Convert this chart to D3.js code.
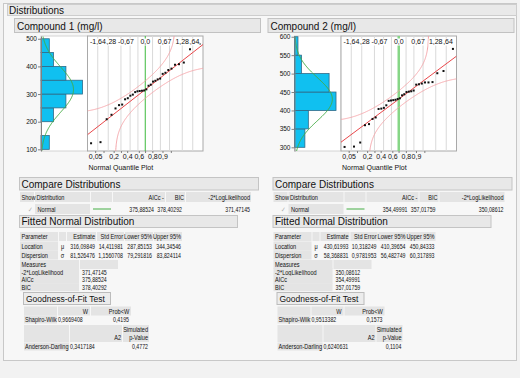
<!DOCTYPE html>
<html>
<head>
<meta charset="utf-8">
<script src="https://cdn.jsdelivr.net/npm/d3@7"></script>
<style>
  body { margin: 0; background: #f2f2f2; }
  text { font-family: "Liberation Sans", Arial, sans-serif; }
</style>
</head>
<body>
<svg id="report"></svg>
<script>
// ---- data ----
let titles = ["Compound 1 (mg/l)", "Compound 2 (mg/l)"];

let compound1 = [122, 126, 209, 225, 248, 260, 262, 281, 285, 294, 298, 307, 310, 311, 312, 313,
                 317, 330, 334, 345, 348, 353, 356, 373, 377, 387, 392, 406, 408, 414, 462, 481];
let compound2 = [301, 302, 313, 360, 363, 377, 381, 404, 405, 407, 414, 426, 427, 428, 429, 431,
                 433, 441, 444, 450, 451, 452, 454, 470, 471, 473, 476, 476, 477, 501, 507, 567];

let yTicks1 = [100, 200, 300, 400, 500];
let yTicks2 = [300, 350, 400, 450, 500, 550, 600];
let binEdges1 = [100, 150, 200, 250, 300, 350, 400, 450, 500];
let binEdges2 = [300, 350, 400, 450, 500, 550, 600];

let fitMean = [316.09849, 430.61993];
let fitSigma = [81.526476, 58.368831];
let bandWidth = 0.15;

let zTicks = [-1.64, -1.28, -0.67, 0, 0.67, 1.28, 1.64];
let zLabels = ["-1,64", "-1,28", "-0,67", "0,0", "0,67", "1,28", "1,64"];
let probGrid = [0.05, 0.1, 0.2, 0.3, 0.4, 0.6, 0.7, 0.8, 0.9, 0.95];
let probTicks = [0.05, 0.2, 0.4, 0.6, 0.8, 0.9];
let probLabels = ["0,05", "0,2", "0,4", "0,6", "0,8", "0,9"];

let compareVals = [["375,88524", "378,40292", "371,47145"], ["354,49991", "357,01759", "350,08612"]];
let paramHead = ["Parameter", "Estimate", "Std Error", "Lower 95%", "Upper 95%"];
let paramRows = [
  [["Location", "\u03bc", "316,09849", "14,411981", "287,85153", "344,34546"],
   ["Dispersion", "\u03c3", "81,526476", "1,1560708", "79,291816", "83,824114"]],
  [["Location", "\u03bc", "430,61993", "10,318249", "410,39654", "450,84333"],
   ["Dispersion", "\u03c3", "58,368831", "0,9781953", "56,482749", "60,317893"]]
];
let measureNames = ["-2*LogLikelihood", "AICc", "BIC"];
let measures = [["371,47145", "375,88524", "378,40292"], ["350,08612", "354,49991", "357,01759"]];
let shapiro = [["0,9669408", "0,4195"], ["0,9513382", "0,1573"]];
let anderson = [["0,3417184", "0,4772"], ["0,6240631", "0,1104"]];

// ---- helpers ----
function qnorm(p) {
  let a = [-39.69683028665376, 220.9460984245205, -275.9285104469687, 138.3577518672690, -30.66479806614716, 2.506628277459239];
  let b = [-54.47609879822406, 161.5858368580409, -155.6989798598866, 66.80131188771972, -13.28068155288572];
  let c = [-0.007784894002430293, -0.3223964580411365, -2.400758277161838, -2.549732539343734, 4.374664141464968, 2.938163982698783];
  let d = [0.007784695709041462, 0.3224671290700398, 2.445134137142996, 3.754408661907416];
  if (p < 0.02425) {
    let q = Math.sqrt(-2 * Math.log(p));
    return (((((c[0]*q+c[1])*q+c[2])*q+c[3])*q+c[4])*q+c[5]) / ((((d[0]*q+d[1])*q+d[2])*q+d[3])*q+1);
  }
  if (p > 1 - 0.02425) return -qnorm(1 - p);
  let q = p - 0.5, r = q * q;
  return (((((a[0]*r+a[1])*r+a[2])*r+a[3])*r+a[4])*r+a[5])*q / (((((b[0]*r+b[1])*r+b[2])*r+b[3])*r+b[4])*r+1);
}
function pnorm(z) {
  let t = 1 / (1 + 0.2316419 * Math.abs(z));
  let y = 0.3989423 * Math.exp(-z * z / 2) * t * (0.3193815 + t * (-0.3565638 + t * (1.781478 + t * (-1.821256 + t * 1.330274))));
  return z > 0 ? 1 - y : y;
}
function txt(g, x, y, s, size, anchor, color, sx) {
  let t = g.append("text").attr("font-size", size)
    .attr("text-anchor", anchor || "start").attr("fill", color || "#111").text(s);
  if (sx) t.attr("transform", `translate(${x},${y}) scale(${sx},1)`);
  else t.attr("x", x).attr("y", y);
  return t;
}
// small report text: JMP's table font is narrow, numbers even more so
function tt(g, x, y, s, anchor, color) {
  return txt(g, x, y, s, 7, anchor, color, /^[\d,]+$/.test(s) ? 0.75 : 0.8);
}
function box(g, x, y, w, h, fill, stroke) {
  return g.append("rect").attr("x", x).attr("y", y).attr("width", w).attr("height", h)
    .attr("fill", fill).attr("stroke", stroke || "none");
}

let svg = d3.select("#report").attr("width", 520).attr("height", 378);
box(svg, 0, 0, 520, 378, "#f2f2f2");
box(svg, 3.5, 3.5, 513, 357, "#f7f7f7", "#c8c8c8");
box(svg, 7.5, 4.5, 509, 11, "#e9e9e9", "#cdcdcd");
txt(svg, 9, 13.5, "Distributions", 10);

const cellFill = "#e4e4e4";

function drawPanel(k, values, yDomain, yTicks, edges) {
  let g = svg.append("g").attr("transform", `translate(${k * 253.5},0)`);
  let mu = fitMean[k], sd = fitSigma[k], n = values.length;

  box(g, 14.5, 18.5, 246, 14, "#e8e8e8", "#c2c2c2");
  txt(g, 17, 29.5, titles[k], 10);

  // histogram
  let y = d3.scaleLinear().domain(yDomain).range([151, 36]);
  let bins = d3.bin().domain([edges[0], edges[edges.length - 1]]).thresholds(edges)(values);
  let hx = d3.scaleLinear().domain([0, d3.max(bins, b => b.length) * 1.12]).range([41, 87.5]);
  box(g, 41, 36, 46.5, 115, "#fff", "#d4d4d4");
  g.append("g").selectAll("rect")
    .data(bins.filter(b => b.length))
    .join("rect")
      .attr("x", hx(0))
      .attr("y", b => y(b.x1))
      .attr("width", b => hx(b.length) - hx(0))
      .attr("height", b => y(b.x0) - y(b.x1))
      .attr("fill", "#10c0f0")
      .attr("stroke", "#2e6a88")
      .attr("stroke-width", 0.8);
  let binW = edges[1] - edges[0];
  let dens = d3.range(yDomain[0], yDomain[1], 2)
    .map(v => [v, n * binW * Math.exp(-0.5 * ((v - mu) / sd) ** 2) / (sd * Math.sqrt(2 * Math.PI))]);
  g.append("path").datum(dens)
    .attr("d", d3.line().x(d => hx(d[1])).y(d => y(d[0])))
    .attr("fill", "none").attr("stroke", "#45ad45").attr("stroke-width", 1);
  g.append("g").attr("transform", "translate(41,0)")
    .call(d3.axisLeft(y).tickValues(yTicks).tickSize(3).tickSizeOuter(0).tickFormat(d3.format("d")))
    .call(a => a.select(".domain").attr("stroke", "#808080"))
    .call(a => a.selectAll(".tick line").attr("stroke", "#808080"))
    .call(a => a.selectAll(".tick text").attr("font-size", 6.5).attr("fill", "#111").attr("x", -4));

  // normal quantile plot
  let qx = d3.scaleLinear().domain([-2, 2]).range([87.5, 203]);
  // JMP lays the probability labels out on a narrower copy of the axis
  let px = d3.scaleLinear().domain([-2, 2]).range([87.5, 179.5]);
  box(g, 87.5, 36, 115.5, 115, "#fff", "#a9a9a9");
  g.append("clipPath").attr("id", "clip" + k)
    .append("rect").attr("x", 87.5).attr("y", 36).attr("width", 115.5).attr("height", 115);
  g.append("g").selectAll("line")
    .data(probGrid)
    .join("line")
      .attr("x1", p => qx(qnorm(p))).attr("x2", p => qx(qnorm(p)))
      .attr("y1", 36).attr("y2", 151)
      .attr("stroke", "#d9d9d9");
  g.append("line").attr("x1", qx(0)).attr("x2", qx(0)).attr("y1", 36).attr("y2", 151)
    .attr("stroke", k == 0 ? "#3dbb3d" : "#86d686").attr("stroke-width", k == 0 ? 1 : 2.5);

  let curves = g.append("g").attr("clip-path", `url(#clip${k})`);
  let line = d3.line().x(d => qx(d[0])).y(d => y(d[1]));
  let zs = d3.range(-2, 2.0001, 0.005);
  let upper = zs.filter(z => pnorm(z) + bandWidth < 0.99999).map(z => [z, mu + sd * qnorm(pnorm(z) + bandWidth)]);
  let lower = zs.filter(z => pnorm(z) - bandWidth > 0.00001).map(z => [z, mu + sd * qnorm(pnorm(z) - bandWidth)]);
  [upper, lower].forEach(c => curves.append("path").datum(c).attr("d", line)
    .attr("fill", "none").attr("stroke", "#f3a3a8").attr("stroke-width", 1));
  curves.append("path").datum([[-2, mu - 2 * sd], [2, mu + 2 * sd]]).attr("d", line)
    .attr("fill", "none").attr("stroke", "#e8474a").attr("stroke-width", 1);

  let sorted = values.slice().sort(d3.ascending);
  g.append("g").selectAll("rect")
    .data(sorted)
    .join("rect")
      .attr("x", (v, i) => qx(qnorm((i + 1) / (n + 1))) - 1)
      .attr("y", v => y(v) - 1)
      .attr("width", 2).attr("height", 2)
      .attr("fill", "#111");

  // quantile labels on top, drawn from the right so the outer ones overlap as in JMP
  let zl = g.append("g");
  zTicks.slice().reverse().forEach((z, j) => {
    let i = zTicks.length - 1 - j;
    let lg = zl.append("g");
    let bg = lg.append("rect").attr("fill", "#fff");
    let t = txt(lg, qx(z), 44, zLabels[i], 7, "middle");
    let w = t.node().getComputedTextLength();
    bg.attr("x", qx(z) - w / 2 - 0.3).attr("y", 38.5).attr("width", w + 0.6).attr("height", 7);
  });

  // probability axis below
  g.append("g").selectAll("line")
    .data(probGrid)
    .join("line")
      .attr("x1", p => px(qnorm(p))).attr("x2", p => px(qnorm(p)))
      .attr("y1", 151).attr("y2", 153)
      .attr("stroke", "#808080");
  probTicks.forEach((p, i) => txt(g, px(qnorm(p)), 159, probLabels[i], 7, "middle"));
  txt(g, 88.5, 169.5, "Normal Quantile Plot", 7);

  // Compare Distributions
  box(g, 19.5, 177.5, 239, 12.5, "#e8e8e8", "#c4c4c4");
  txt(g, 21.5, 187.5, "Compare Distributions", 10);
  [[20, 14], [35, 55], [91, 21], [113, 52], [166, 19], [186, 65]]
    .forEach(c => box(g, c[0], 192, c[1], 10, cellFill));
  tt(g, 21.5, 199.5, "Show");
  tt(g, 36.5, 199.5, "Distribution");
  tt(g, 164, 199.5, "AICc -", "end");
  tt(g, 184, 199.5, "BIC", "end");
  tt(g, 250, 199.5, "-2*LogLikelihood", "end");
  tt(g, 30, 211.5, "\u2713", "middle", "#b0b0b0");
  box(g, 35, 204, 55, 10, cellFill);
  tt(g, 37.5, 211.5, "Normal");
  g.append("line").attr("x1", 93).attr("x2", 111).attr("y1", 209).attr("y2", 209)
    .attr("stroke", "#45ad45");
  compareVals[k].forEach((v, i) => tt(g, [154, 182, 250][i], 211.5, v, "end"));

  // Fitted Normal Distribution
  box(g, 19.5, 215.5, 218, 12, "#e8e8e8", "#c4c4c4");
  txt(g, 21.5, 225, "Fitted Normal Distribution", 10);
  let pcx = [[20, 38], [59, 7], [67, 29], [97, 27], [125, 28], [154, 28]];
  pcx.forEach(c => box(g, c[0], 232, c[1], 9, cellFill));
  tt(g, 21.5, 239, paramHead[0]);
  paramHead.slice(1).forEach((h, i) => tt(g, [95, 123, 152, 181][i], 239, h, "end"));
  paramRows[k].forEach((r, j) => {
    let yy = 248.5 + j * 9;
    box(g, 20, yy - 7, 38, 9, cellFill);
    tt(g, 21.5, yy, r[0]);
    tt(g, 62.5, yy, r[1], "middle");
    r.slice(2).forEach((v, i) => tt(g, [95, 123, 152, 181][i], yy, v, "end"));
  });
  box(g, 20, 260, 59, 9, cellFill);
  box(g, 80, 260, 38, 9, cellFill);
  tt(g, 21.5, 266.5, "Measures");
  measureNames.forEach((m, j) => {
    let yy = 274.5 + j * 7.6;
    box(g, 20, yy - 6.5, 59, 8, cellFill);
    tt(g, 21.5, yy, m);
    tt(g, 82, yy, measures[k][j]);
  });

  // Goodness-of-Fit Test
  box(g, 23.5, 292.5, 87, 12, "#ececec", "#bcbcbc");
  txt(g, 26, 302, "Goodness-of-Fit Test", 8.5);
  [[24, 33], [58, 32], [91, 40]].forEach(c => box(g, c[0], 306.5, c[1], 9, cellFill));
  tt(g, 88, 313.5, "W", "end");
  tt(g, 119, 313.5, "Prob<W", "middle");
  box(g, 24, 315.5, 33, 8, cellFill);
  tt(g, 25, 321.5, "Shapiro-Wilk");
  tt(g, 58, 321.5, shapiro[k][0]);
  tt(g, 121, 321.5, shapiro[k][1], "middle");
  [[24, 45], [70, 52], [123, 26]].forEach(c => box(g, c[0], 325, c[1], 17, cellFill));
  tt(g, 148, 331.5, "Simulated", "end");
  tt(g, 121, 339.5, "A2", "end");
  tt(g, 148, 339.5, "p-Value", "end");
  box(g, 24, 342.5, 45, 8, cellFill);
  tt(g, 25, 348.5, "Anderson-Darling");
  tt(g, 70, 348.5, anderson[k][0]);
  tt(g, 140, 348.5, anderson[k][1], "middle");
}

drawPanel(0, compound1, [94, 510], yTicks1, binEdges1);
drawPanel(1, compound2, [290, 602], yTicks2, binEdges2);
</script>
</body>
</html>
